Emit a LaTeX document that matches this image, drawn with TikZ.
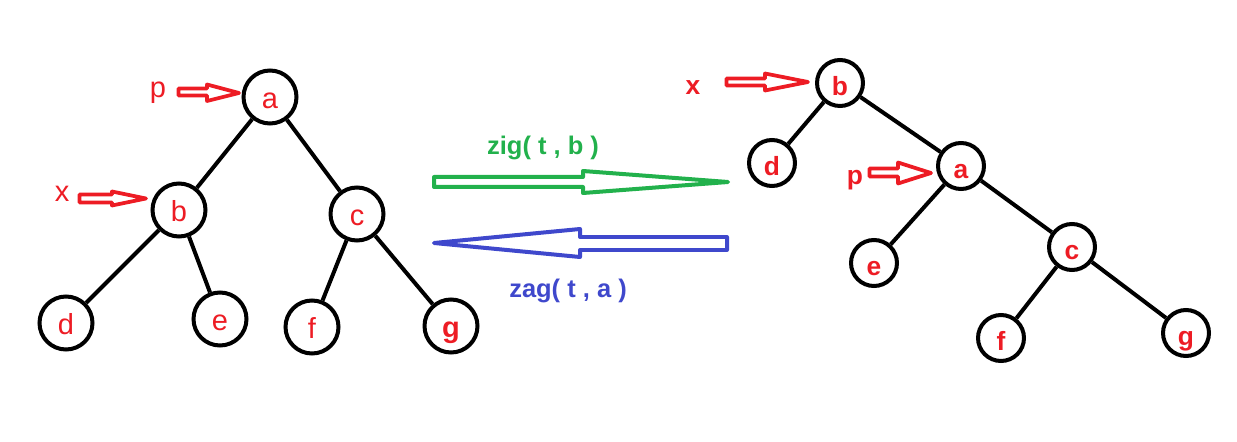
\documentclass[tikz,border=0pt]{standalone}
\usepackage{fontspec}
\setmainfont{Liberation Sans}
\usepackage{tikz}
\definecolor{MarkRed}{RGB}{237,28,36}
\definecolor{ZigGreen}{RGB}{34,177,76}
\definecolor{ZagBlue}{RGB}{63,72,204}
\tikzset{
  oldnode/.style={
    circle,
    draw=black,
    line width=0.08cm,
    minimum size=1.06cm,
    inner sep=0pt,
    text=MarkRed,
    text height=0.48cm,
    text depth=0cm,
    font=\fontsize{16.5}{18}\selectfont
  },
  newnode/.style={
    circle,
    draw=black,
    line width=0.08cm,
    minimum size=0.92cm,
    inner sep=0pt,
    text=MarkRed,
    text height=0.5cm,
    text depth=0cm,
    font=\fontsize{15}{17}\selectfont\bfseries
  },
  branch/.style={line width=0.08cm,draw=black},
  pointer/.style={draw=MarkRed,line width=0.075cm,line join=round},
  oldmark/.style={text=MarkRed,anchor=base,inner sep=0pt,font=\fontsize{16.5}{18}\selectfont},
  newmark/.style={text=MarkRed,anchor=base,inner sep=0pt,font=\fontsize{15}{17}\selectfont\bfseries},
  rotarrow/.style={line width=0.08cm,line join=round,fill=white},
  rotlabel/.style={anchor=base,inner sep=0pt,font=\fontsize{14.5}{17}\selectfont\bfseries}
}
\begin{document}
\begin{tikzpicture}[x=0.02cm,y=-0.02cm]
    \useasboundingbox (0,0) rectangle (1237,442);
    % tree before the rotation
    \node[oldnode] (la) at (270,97) {a};
    \node[oldnode] (lb) at (179,210) {b};
    \node[oldnode] (lc) at (357,214) {c};
    \node[oldnode] (ld) at (66,323) {d};
    \node[oldnode] (le) at (220,319) {e};
    \node[oldnode] (lf) at (312,327) {f};
    \node[oldnode] (lg) at (451,326) {\bfseries g};
    \draw[branch] (la) -- (lb);
    \draw[branch] (la) -- (lc);
    \draw[branch] (lb) -- (ld);
    \draw[branch] (lb) -- (le);
    \draw[branch] (lc) -- (lf);
    \draw[branch] (lc) -- (lg);
    \node[oldmark] (lp) at (158,98) {p};
    \node[oldmark] (lx) at (62,202) {x};
    \draw[pointer] (178.5,88.5) -- (207,88.5) -- (207,84.5) -- (239,93) -- (207,101) -- (207,95.5) -- (178.5,95.5) -- cycle;
    \draw[pointer] (79.5,194.5) -- (112,194.5) -- (112,191.5) -- (146,198.5) -- (112,205.5) -- (112,202.5) -- (79.5,202.5) -- cycle;
    % tree after the rotation
    \node[newnode] (rb) at (840,83) {b};
    \node[newnode] (rd) at (772,163) {d};
    \node[newnode] (ra) at (961,166) {a};
    \node[newnode] (re) at (874,263) {e};
    \node[newnode] (rc) at (1072,247) {c};
    \node[newnode] (rf) at (1001,338) {f};
    \node[newnode] (rg) at (1186,333) {g};
    \draw[branch] (rb) -- (rd);
    \draw[branch] (rb) -- (ra);
    \draw[branch] (ra) -- (re);
    \draw[branch] (ra) -- (rc);
    \draw[branch] (rc) -- (rf);
    \draw[branch] (rc) -- (rg);
    \node[newmark] (rx) at (693,95) {x};
    \node[newmark] (rp) at (855,185) {p};
    \draw[pointer] (726.5,78.5) -- (765,78.5) -- (765,73.5) -- (808,82) -- (765,90.5) -- (765,85.5) -- (726.5,85.5) -- cycle;
    \draw[pointer] (869.5,168.5) -- (898,168.5) -- (898,162.5) -- (931,173) -- (898,183.5) -- (898,176.5) -- (869.5,176.5) -- cycle;
    % rotations
    \draw[rotarrow,draw=ZigGreen] (434,177) -- (583,177) -- (583,171) -- (728,182) -- (583,193) -- (583,187) -- (434,187) -- cycle;
    \draw[rotarrow,draw=ZagBlue] (727,237) -- (580,237) -- (580,229) -- (434,243) -- (580,257) -- (580,250) -- (727,250) -- cycle;
    \node[rotlabel,text=ZigGreen] (zig) at (543,155) {zig( t , b )};
    \node[rotlabel,text=ZagBlue] (zag) at (568,297) {zag( t , a )};
  \end{tikzpicture}
\end{document}
